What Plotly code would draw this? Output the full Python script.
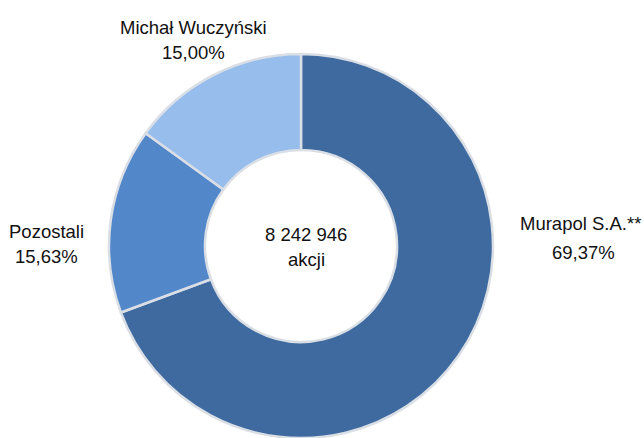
import plotly.graph_objects as go

labels = ["Murapol S.A.**", "Pozostali", "Michał Wuczyński"]
values = [69.37, 15.63, 15.00]
value_text = ["69,37%", "15,63%", "15,00%"]
colors = ["#3E6A9F", "#5287CA", "#97BDEC"]
center_lines = ["8 242 946", "akcji"]

W, H = 644, 438
FONT = "Liberation Sans, Arial, sans-serif"
FS = 18.5
CX, CY, R = 301, 246, 192

fig = go.Figure(go.Pie(
    labels=labels,
    values=values,
    sort=False,
    direction="clockwise",
    rotation=0,
    hole=0.5,
    marker=dict(colors=colors, line=dict(color="#DADFE6", width=2.5)),
    textinfo="none",
    hoverinfo="label+percent",
    showlegend=False,
    domain=dict(x=[(CX - R) / W, (CX + R) / W], y=[0, 2 * R / H]),
))

anns = []

def add(px, py, text, anchor="center"):
    anns.append(dict(x=px / W, y=1 - py / H, xref="paper", yref="paper",
                     text=text, showarrow=False,
                     font=dict(family=FONT, size=FS, color="#111111"),
                     align="center", xanchor=anchor, yanchor="middle"))

# Murapol: right-aligned block near the right edge
add(643, 223, labels[0], "right")
add(583, 252, value_text[0])
# Pozostali
add(46, 231, labels[1])
add(46, 256, value_text[1])
# Michał Wuczyński
add(193, 27, labels[2])
add(193, 53, value_text[2])
# centre text
add(306, 234, center_lines[0])
add(306, 259, center_lines[1])

fig.update_layout(
    width=W, height=H,
    margin=dict(l=0, r=0, t=0, b=0),
    paper_bgcolor="white", plot_bgcolor="white",
    annotations=anns,
)
fig.write_html("out.html", config={"displayModeBar": False},
               post_script="document.body.style.margin='0';")
